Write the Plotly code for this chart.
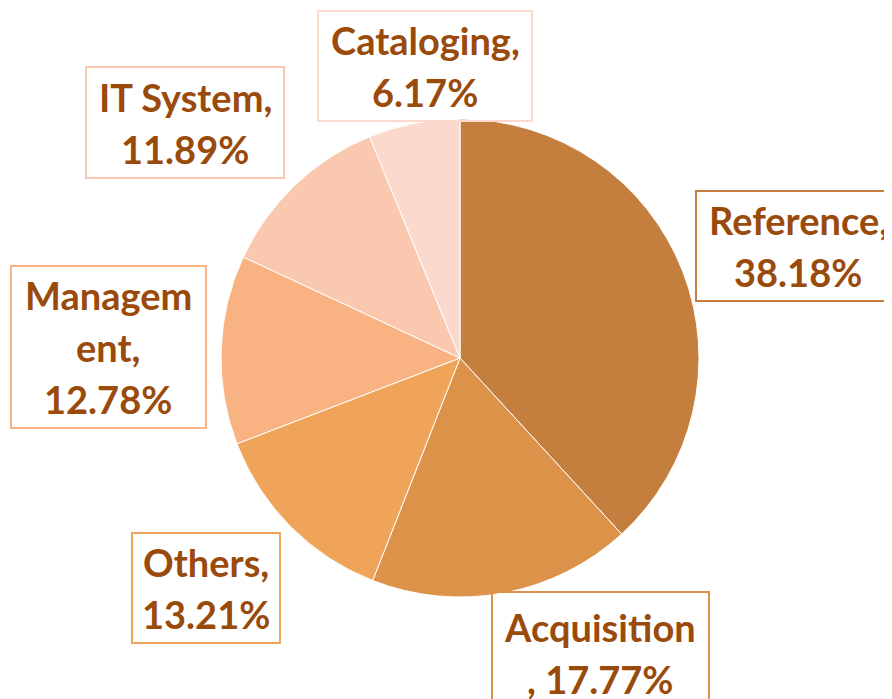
import plotly.graph_objects as go

labels = ["Reference", "Acquisition", "Others", "Management", "IT System", "Cataloging"]
values = [38.18, 17.77, 13.21, 12.78, 11.89, 6.17]
colors = ["#C47F3F", "#DC9249", "#EFA45A", "#F9B383", "#F9C8AE", "#FBDACD"]

# label line-wrapping as shown in the chart (text pieces, label then value)
wraps = {
    "Reference": ["Reference,", "{v}%"],
    "Acquisition": ["Acquisition", ", {v}%"],
    "Others": ["Others,", "{v}%"],
    "Management": ["Managem", "ent,", "{v}%"],
    "IT System": ["IT System,", "{v}%"],
    "Cataloging": ["Cataloging,", "{v}%"],
}

OFF = 8  # page body margin
W, H = 892 - OFF, 699 - OFF
# label boxes in page pixels (x0, y0, x1, y1) and text centre
boxes = {
    "Reference": ((696, 191, 910, 301), (798, 246)),
    "Acquisition": ((492, 592, 709, 720), (600, 653)),
    "Others": ((132, 533, 280, 643), (206, 588)),
    "Management": ((11, 266, 206, 428), (108, 347)),
    "IT System": ((86, 67, 284, 178), (185, 123)),
    "Cataloging": ((318, 11, 532, 121), (425, 66)),
}

cx, cy, r = 460, 358, 239


def px(x):
    return (x - OFF) / W


def py(y):
    return 1 - (y - OFF) / H


fig = go.Figure(go.Pie(
    labels=labels, values=values, sort=False, direction="clockwise", rotation=0,
    marker=dict(colors=colors, line=dict(color="white", width=1)),
    textinfo="none", hoverinfo="label+percent", showlegend=False,
    domain=dict(x=[px(cx - r), px(cx + r)], y=[py(cy + r), py(cy - r)]),
))

shapes = []
annotations = []
pitch = 52
for lab, val, col in zip(labels, values, colors):
    (x0, y0, x1, y1), (tx, ty) = boxes[lab]
    shapes.append(dict(type="rect", xref="paper", yref="paper",
                       x0=px(x0), x1=px(x1), y0=py(y1), y1=py(y0),
                       line=dict(color=col, width=2), fillcolor="rgba(255,255,255,0)"))
    lines = [s.format(v=f"{val:.2f}") for s in wraps[lab]]
    n = len(lines)
    for i, t in enumerate(lines):
        ly = ty + (i - (n - 1) / 2) * pitch
        annotations.append(dict(x=px(tx), y=py(ly), xref="paper", yref="paper",
                                text=t, showarrow=False, xanchor="center", yanchor="middle",
                                font=dict(family="Lato", size=38, color="#9A4B0C", weight="bold")))

fig.update_layout(width=W, height=H, margin=dict(l=0, r=0, t=0, b=0),
                  paper_bgcolor="white", plot_bgcolor="white",
                  shapes=shapes, annotations=annotations)
fig.write_html("out.html")
